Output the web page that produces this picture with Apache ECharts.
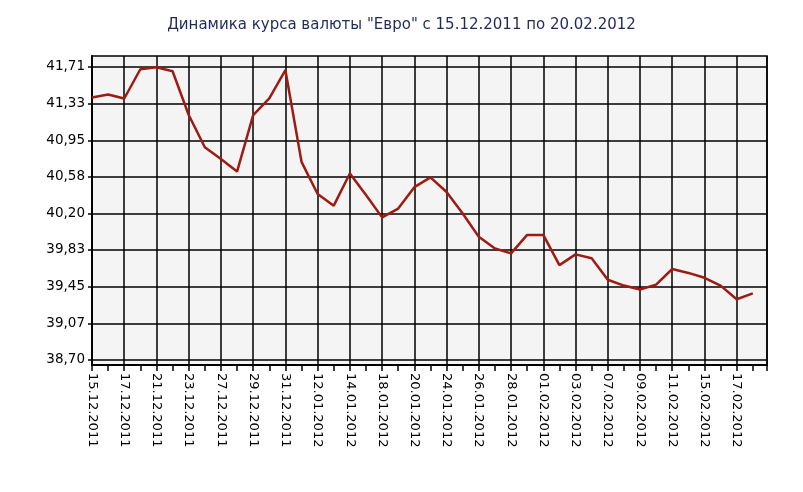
<!DOCTYPE html>
<html>
<head>
<meta charset="utf-8">
<script src="https://cdn.jsdelivr.net/npm/echarts@6/dist/echarts.min.js"></script>
<style>html,body{margin:0;padding:0;background:#fff;}#c{width:803px;height:492px;}</style>
</head>
<body>
<div id="c"></div>
<script>
const titleText = 'Динамика курса валюты "Евро" с 15.12.2011 по 20.02.2012';
const dates = ['15.12.2011','16.12.2011','17.12.2011','20.12.2011','21.12.2011','22.12.2011','23.12.2011','24.12.2011','27.12.2011','28.12.2011','29.12.2011','30.12.2011','31.12.2011','11.01.2012','12.01.2012','13.01.2012','14.01.2012','17.01.2012','18.01.2012','19.01.2012','20.01.2012','21.01.2012','24.01.2012','25.01.2012','26.01.2012','27.01.2012','28.01.2012','31.01.2012','01.02.2012','02.02.2012','03.02.2012','04.02.2012','07.02.2012','08.02.2012','09.02.2012','10.02.2012','11.02.2012','14.02.2012','15.02.2012','16.02.2012','17.02.2012','18.02.2012'];
const rates = [41.39,41.42,41.38,41.68,41.70,41.66,41.21,40.88,40.76,40.63,41.21,41.38,41.67,40.73,40.40,40.28,40.61,40.39,40.16,40.25,40.47,40.57,40.42,40.20,39.96,39.84,39.79,39.98,39.98,39.67,39.78,39.74,39.52,39.46,39.42,39.47,39.63,39.59,39.54,39.46,39.32,39.38];
const yTickLabels = ['38,70','39,07','39,45','39,83','40,20','40,58','40,95','41,33','41,71'];

const yTickValues = yTickLabels.map(s => parseFloat(s.replace(',', '.')));
const seriesData = rates.map((v, i) => [i, v]);

const chart = echarts.init(document.getElementById('c'));
chart.setOption({
  animation: false,
  title: {
    text: titleText, left: 'center', top: 13,
    textStyle: { fontFamily: 'DejaVu Sans', fontSize: 15, fontWeight: 'normal', color: '#1f2a5c' }
  },
  grid: {
    left: 92, right: 36, top: 56, bottom: 127,
    show: true, backgroundColor: '#f4f4f4', borderColor: '#000', borderWidth: 1.5
  },
  xAxis: [
    {
      type: 'value', min: 0, max: 41.88, interval: 2,
      axisLine: { show: true, lineStyle: { color: '#000', width: 2 } },
      axisTick: { show: false },
      splitLine: { show: true, lineStyle: { color: '#000', width: 1.5 } },
      axisLabel: {
        rotate: -90, margin: 8, color: '#000', fontFamily: 'DejaVu Sans', fontSize: 13,
        formatter: v => (Number.isInteger(v) && dates[v]) ? dates[v] : ''
      }
    },
    {
      type: 'value', min: 0, max: 41.88, interval: 1, position: 'bottom',
      axisLine: { show: false },
      axisTick: { show: true, length: 6, lineStyle: { color: '#000', width: 1.5 } },
      splitLine: { show: false },
      axisLabel: { show: false }
    }
  ],
  yAxis: {
    type: 'value', min: 38.645, max: 41.816,
    axisLine: { show: true, lineStyle: { color: '#000', width: 2 } },
    axisTick: { show: true, length: 4, customValues: yTickValues, lineStyle: { color: '#000', width: 1.5 } },
    splitLine: { show: true, lineStyle: { color: '#000', width: 1.5 } },
    axisLabel: {
      customValues: yTickValues, margin: 7, color: '#000', fontFamily: 'DejaVu Sans', fontSize: 13.5,
      formatter: v => { const i = yTickValues.indexOf(v); return i >= 0 ? yTickLabels[i] : ''; }
    }
  },
  series: [{
    type: 'line', xAxisIndex: 0, data: seriesData, symbol: 'none',
    lineStyle: { color: '#9e1b12', width: 2.5 }
  }]
});
</script>
</body>
</html>
